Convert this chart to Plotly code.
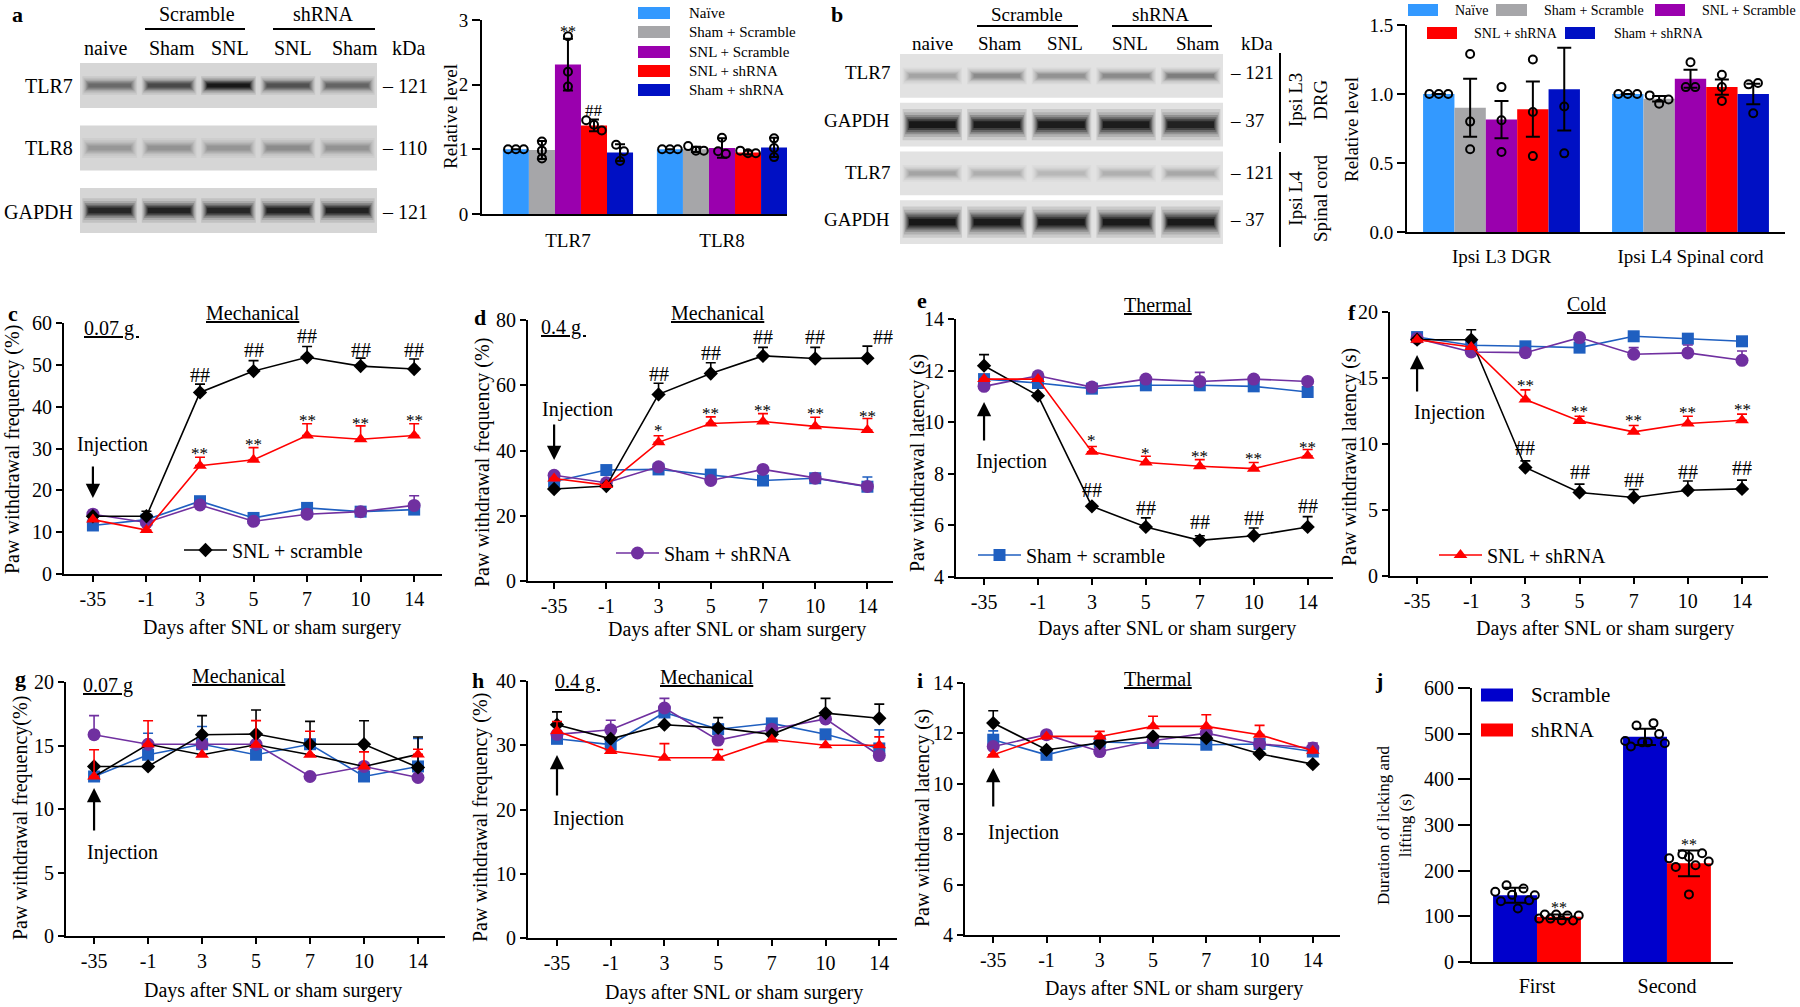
import plotly.graph_objects as go

W, H = 1800, 1007
FONT = "Liberation Serif"

# ===================== DATA =====================
lane_labels = ["naive", "Sham", "SNL", "SNL", "Sham"]

blot_a_proteins = ["TLR7", "TLR8", "GAPDH"]
blot_a_kda = ["121", "110", "121"]
blot_a_intensity = [
    [0.55, 0.72, 0.97, 0.68, 0.58],
    [0.32, 0.34, 0.33, 0.38, 0.34],
    [0.90, 0.92, 0.90, 0.92, 0.92],
]

blot_b_proteins = ["TLR7", "GAPDH", "TLR7", "GAPDH"]
blot_b_kda = ["121", "37", "121", "37"]
blot_b_intensity = [
    [0.30, 0.42, 0.38, 0.42, 0.48],
    [0.97, 0.95, 0.95, 0.95, 0.93],
    [0.30, 0.25, 0.20, 0.24, 0.28],
    [0.97, 0.96, 0.95, 0.96, 0.96],
]
blot_b_regions = ["Ipsi L3<br>DRG", "Ipsi L4<br>Spinal cord"]

wb_groups = ["Naïve", "Sham + Scramble", "SNL + Scramble", "SNL + shRNA", "Sham + shRNA"]

a_targets = ["TLR7", "TLR8"]
a_mean = [[1.00, 0.99, 2.31, 1.37, 0.95], [1.00, 1.00, 1.02, 0.95, 1.03]]
a_err = [[None, 0.14, 0.40, 0.09, 0.13], [None, 0.04, 0.15, 0.03, 0.15]]
a_points = [
    [[1.0, 1.0, 1.0], [1.12, 0.98, 0.86], [2.75, 2.20, 1.97], [1.45, 1.38, 1.29], [1.07, 0.97, 0.82]],
    [[1.0, 1.0, 1.0], [1.05, 0.98, 0.98], [1.18, 0.97, 0.93], [0.98, 0.94, 0.94], [1.17, 1.02, 0.88]],
]
a_sig_bar = [2, 3]
a_sig_y = [2.88, 1.60]
a_sig_text = ["**", "##"]

b_targets = ["Ipsi L3 DGR", "Ipsi L4 Spinal cord"]
b_mean = [[1.00, 0.90, 0.815, 0.89, 1.035], [1.00, 0.965, 1.11, 1.05, 1.00]]
b_err = [[None, 0.21, 0.135, 0.20, 0.30], [None, 0.02, 0.065, 0.055, 0.075]]
b_points = [
    [[1.0, 1.0, 1.0], [1.29, 0.80, 0.60], [1.05, 0.81, 0.58], [1.25, 0.87, 0.55], [1.61, 0.91, 0.57]],
    [[1.0, 1.0, 1.0], [0.99, 0.93, 0.96], [1.23, 1.05, 1.05], [1.14, 1.05, 0.95], [1.07, 1.08, 0.86]],
]

days = ["-35", "-1", "3", "5", "7", "10", "14"]
series_names = ["Sham + scramble", "Sham + shRNA", "SNL + scramble", "SNL + shRNA"]

# order of inner lists follows series_names
c_mean = [[11.6, 13.0, 17.4, 13.4, 15.8, 14.9, 15.4],
          [14.3, 12.3, 16.5, 12.6, 14.3, 14.9, 16.4],
          [13.8, 13.8, 43.4, 48.5, 51.8, 49.7, 49.0],
          [13.0, 10.5, 25.9, 27.3, 33.1, 32.2, 33.1]]
c_sem = [[0, 0, 0, 0, 0, 0, 0],
         [0, 0, 0, 0, 0, 0, 2.3],
         [0, 1.2, 2.0, 2.5, 2.6, 1.9, 2.4],
         [0, 0, 2.0, 2.9, 2.8, 3.2, 2.8]]
c_hash_y = [47.6, 53.6, 56.8, 53.6, 53.6]
c_star_y = [29.8, 31.9, 37.7, 36.9, 37.7]
c_star_text = ["**", "**", "**", "**", "**"]

d_mean = [[30.5, 34.0, 34.2, 32.6, 30.8, 31.5, 28.9],
          [32.4, 30.1, 35.0, 30.8, 34.2, 31.5, 29.0],
          [28.2, 29.1, 57.2, 63.6, 69.0, 68.2, 68.3],
          [31.4, 29.4, 42.5, 48.3, 48.9, 47.4, 46.3]]
d_sem = [[0, 0, 0, 0, 0, 0, 3.0],
         [0, 0, 0, 0, 0, 0, 0],
         [0, 0, 3.4, 3.3, 2.6, 3.4, 3.7],
         [0, 0, 2.0, 2.0, 2.4, 2.8, 3.5]]
d_hash_x = [2, 3, 4, 5, 6.3]
d_hash_y = [63.6, 69.8, 74.9, 74.7, 74.9]
d_star_y = [47.3, 52.6, 53.4, 52.6, 51.6]
d_star_text = ["*", "**", "**", "**", "**"]

e_mean = [[11.67, 11.52, 11.30, 11.43, 11.43, 11.39, 11.17],
          [11.39, 11.80, 11.36, 11.67, 11.58, 11.67, 11.58],
          [12.19, 11.03, 6.74, 5.94, 5.42, 5.60, 5.94],
          [11.67, 11.67, 8.85, 8.44, 8.29, 8.20, 8.70]]
e_sem = [[0, 0, 0, 0, 0, 0, 0],
         [0, 0, 0, 0, 0.35, 0, 0],
         [0.43, 0, 0, 0.35, 0.18, 0.30, 0.40],
         [0, 0, 0.21, 0.24, 0.26, 0.24, 0.24]]
e_hash_y = [7.38, 6.67, 6.12, 6.29, 6.74]
e_star_y = [9.45, 8.96, 8.83, 8.74, 9.17]
e_star_text = ["*", "*", "**", "**", "**"]

f_mean = [[18.1, 17.48, 17.4, 17.3, 18.16, 17.98, 17.78],
          [18.0, 16.97, 16.92, 18.06, 16.8, 16.9, 16.34],
          [17.9, 17.9, 8.22, 6.33, 5.95, 6.5, 6.6],
          [17.9, 17.35, 13.37, 11.75, 10.92, 11.55, 11.8]]
f_sem = [[0, 0, 0, 0, 0, 0, 0],
         [0, 0, 0, 0, 0.5, 0.6, 0.7],
         [0, 0.75, 0.5, 0.63, 0.6, 0.7, 0.66],
         [0, 0, 0.73, 0.35, 0.48, 0.55, 0.46]]
f_hash_y = [9.73, 7.9, 7.3, 7.9, 8.15]
f_star_y = [14.7, 12.8, 12.05, 12.7, 12.94]
f_star_text = ["**", "**", "**", "**", "**"]

g_mean = [[12.56, 14.27, 15.1, 14.27, 15.1, 12.56, 13.35],
          [15.85, 15.1, 15.1, 15.1, 12.56, 13.35, 12.48],
          [13.35, 13.35, 15.85, 15.9, 15.1, 15.1, 13.27],
          [12.56, 15.1, 14.27, 15.06, 14.27, 13.35, 14.3]]
g_sem = [[0, 1.7, 1.4, 0, 0, 0, 2.2],
         [1.5, 0, 0, 0, 0, 0, 0],
         [0, 0, 1.5, 1.9, 1.8, 1.85, 2.4],
         [2.1, 1.85, 0, 1.9, 1.85, 1.15, 0.4]]

h_mean = [[31.0, 30.1, 35.1, 32.5, 33.4, 31.7, 29.5],
          [31.7, 32.4, 35.8, 30.8, 32.5, 34.1, 28.4],
          [33.2, 31.0, 33.2, 32.7, 31.7, 35.0, 34.2],
          [32.2, 29.1, 28.05, 28.05, 30.9, 30.0, 30.0]]
h_sem = [[0, 0, 0, 0, 0, 0, 2.9],
         [0, 1.5, 1.5, 0, 0, 0, 0],
         [2.0, 0, 0, 1.6, 0, 2.3, 2.2],
         [1.5, 0, 2.2, 1.3, 0, 0, 1.3]]

i_mean = [[11.75, 11.15, 11.66, 11.62, 11.55, 11.58, 11.28],
          [11.48, 11.95, 11.28, 11.71, 12.01, 11.58, 11.42],
          [12.41, 11.35, 11.62, 11.88, 11.81, 11.19, 10.78],
          [11.15, 11.88, 11.88, 12.28, 12.28, 11.95, 11.31]]
i_sem = [[0.35, 0, 0, 0, 0, 0, 0],
         [0, 0, 0, 0, 0, 0, 0.2],
         [0.49, 0, 0, 0, 0, 0, 0],
         [0, 0, 0.2, 0.4, 0.46, 0.37, 0]]

j_phases = ["First", "Second"]
j_groups = ["Scramble", "shRNA"]
j_mean = [[146, 493], [99, 216]]
j_err = [[16.5, 18], [5, 28]]
j_points = [
    [[154, 133, 168, 147, 117, 161, 135, 146], [484, 472, 518, 481, 481, 523, 499, 479]],
    [[95, 104, 95, 104, 91, 102, 91, 102], [227, 208, 236, 148, 230, 212, 238, 220]],
]
j_sig_y = [128, 267]

# ===================== STYLE =====================
wb_colors = ["#3399FF", "#A6A6A9", "#9A00AE", "#FF0000", "#0010C4"]
j_colors = ["#0000CC", "#FF0000"]
series_style = {
    "Sham + scramble": dict(color="#1F5FC0", symbol="square", size=12),
    "Sham + shRNA": dict(color="#7030A0", symbol="circle", size=13),
    "SNL + scramble": dict(color="#000000", symbol="diamond", size=11),
    "SNL + shRNA": dict(color="#FF0000", symbol="triangle-up", size=12),
}

fig = go.Figure()
layout = {}
annotations = []
shapes = []


def xd(l, r):
    return [l / W, r / W]


def yd(t, b):
    return [1 - b / H, 1 - t / H]


axis_common = dict(showgrid=False, zeroline=False, showline=True, linecolor="black",
                   linewidth=2, tickcolor="black", tickwidth=2, automargin=False,
                   tickfont=dict(family=FONT, size=20, color="black"), fixedrange=True)


def add_xy(n, xdom, ydom, xr, yr, xkw=None, ykw=None):
    s = "" if n == 1 else str(n)
    xa = dict(axis_common, domain=xdom, range=xr, anchor="y" + s)
    ya = dict(axis_common, domain=ydom, range=yr, anchor="x" + s)
    xa.update(xkw or {})
    ya.update(ykw or {})
    layout["xaxis" + s] = xa
    layout["yaxis" + s] = ya
    return "x" + s, "y" + s


def text(x, y, s, size=20, xanchor="center", yanchor="middle", angle=0):
    annotations.append(dict(x=x / W, y=1 - y / H, xref="paper", yref="paper", text=s,
                            showarrow=False, xanchor=xanchor, yanchor=yanchor, textangle=angle,
                            font=dict(family=FONT, size=size, color="black")))


def data_text(xa, ya, x, y, s, size, yshift=0):
    annotations.append(dict(x=x, y=y, xref=xa, yref=ya, text=s, showarrow=False,
                            xanchor="center", yanchor="middle", yshift=yshift,
                            font=dict(family=FONT, size=size, color="black")))


def arrow(xa, tip_y, tail_y):
    annotations.append(dict(x=0, y=1 - tip_y / H, xref=xa, yref="paper", ax=0, ay=tail_y - tip_y,
                            text="", showarrow=True, arrowhead=2, arrowsize=1.3,
                            arrowwidth=2.2, arrowcolor="black"))


def hline(x0, x1, y, w=2):
    shapes.append(dict(type="line", xref="paper", yref="paper", x0=x0 / W, x1=x1 / W,
                       y0=1 - y / H, y1=1 - y / H, line=dict(color="black", width=w)))


def vline(x, y0, y1, w=2):
    shapes.append(dict(type="line", xref="paper", yref="paper", x0=x / W, x1=x / W,
                       y0=1 - y0 / H, y1=1 - y1 / H, line=dict(color="black", width=w)))


def swatch(x0, x1, yc, h, color):
    shapes.append(dict(type="rect", xref="paper", yref="paper", x0=x0 / W, x1=x1 / W,
                       y0=1 - (yc + h / 2) / H, y1=1 - (yc - h / 2) / H,
                       fillcolor=color, line=dict(width=0)))


def gray(level):
    l = max(0, min(255, int(round(level))))
    return f"rgb({l},{l},{l})"


# ===================== BLOTS =====================
band_layers = [(0.92, 2.3, 0.12), (0.88, 1.8, 0.25), (0.84, 1.4, 0.42),
               (0.80, 1.1, 0.62), (0.76, 0.8, 0.82), (0.72, 0.5, 1.0)]


def blot(n, box, yr, intensities, strip_h, band_h, bg):
    xa, ya = add_xy(n, xd(box[0], box[2]), yd(box[1], box[3]), [0.5, 5.5], yr,
                    xkw=dict(visible=False), ykw=dict(visible=False))
    rows = len(intensities)
    centers = [rows - 1 - r for r in range(rows)]
    fig.add_trace(go.Bar(x=[3] * rows, y=[strip_h] * rows, base=[c - strip_h / 2 for c in centers],
                         width=[5.0] * rows, marker=dict(color=gray(bg), line=dict(width=0)),
                         xaxis=xa, yaxis=ya, showlegend=False, hoverinfo="skip"))
    lanes = list(range(1, 6))
    for r in range(rows):
        c = centers[r]
        bh = band_h[r]
        for sw, sh, k in band_layers:
            cols = [gray(bg - v * k * (bg - 18)) for v in intensities[r]]
            fig.add_trace(go.Bar(x=lanes, y=[bh * sh] * 5, base=[c - bh * sh / 2] * 5,
                                 width=[sw] * 5, marker=dict(color=cols, line=dict(width=0)),
                                 xaxis=xa, yaxis=ya, showlegend=False, hoverinfo="skip"))
    return xa, ya


blot(1, (80, 63, 377, 233), [-0.36, 2.36], blot_a_intensity, 0.72, [0.13, 0.14, 0.17], 214)
blot(3, (900, 53, 1223, 245), [-0.47, 3.47], blot_b_intensity, 0.9, [0.15, 0.28, 0.15, 0.28], 226)

# panel a blot labels
text(17, 15, "<b>a</b>", 22)
text(197, 14, "Scramble", 20)
text(323, 14, "shRNA", 20)
hline(145, 245, 29)
hline(273, 375, 29)
for lx, lab in zip([105, 172, 230, 293, 355], lane_labels):
    text(lx, 48, lab, 20)
text(408, 48, "kDa", 20)
for yy, p, k in zip([86, 148, 212], blot_a_proteins, blot_a_kda):
    text(75, yy, p, 20, xanchor="right")
    text(380, yy, "– " + k, 20, xanchor="left")

# panel b blot labels
text(837, 15, "<b>b</b>", 22)
text(1027, 14, "Scramble", 19)
text(1160, 14, "shRNA", 19)
hline(977, 1078, 26)
hline(1112, 1212, 26)
for lx, lab in zip([932, 1000, 1065, 1130, 1198], lane_labels):
    text(lx, 43, lab, 19)
text(1257, 43, "kDa", 19)
for yy, p, k in zip([72, 120, 173, 220], blot_b_proteins, blot_b_kda):
    text(892, yy, p, 19, xanchor="right")
    text(1228, yy, "– " + k, 19, xanchor="left")
vline(1280, 53, 143)
vline(1280, 152, 247)
text(1308, 100, blot_b_regions[0], 19, angle=-90)
text(1308, 198, blot_b_regions[1], 19, angle=-90)


# ===================== GROUPED BARS =====================
def swarm(vals, thr, bw):
    n = len(vals)
    order = sorted(range(n), key=lambda i: vals[i])
    groups, cur = [], [order[0]]
    for p, q in zip(order, order[1:]):
        if vals[q] - vals[p] < thr:
            cur.append(q)
        else:
            groups.append(cur)
            cur = [q]
    groups.append(cur)
    offs = [0.0] * n
    for grp in groups:
        k = len(grp)
        if k == 1:
            continue
        step = min(0.3 * bw, 0.9 * bw / (k - 1))
        for j, idx in enumerate(sorted(grp)):
            offs[idx] = (j - (k - 1) / 2) * step
    return offs


def grouped(xa, ya, means, errs, points, colors, bw, thr, cap, msize):
    ng = len(means)
    k = len(colors)
    px, py = [], []
    for i in range(k):
        xs = [g + (i - (k - 1) / 2) * bw for g in range(ng)]
        ys = [means[g][i] for g in range(ng)]
        es = [errs[g][i] for g in range(ng)]
        fig.add_trace(go.Bar(x=xs, y=ys, width=[bw] * ng, marker=dict(color=colors[i], line=dict(width=0)),
                             error_y=dict(type="data", array=es, color="black", thickness=2, width=cap),
                             xaxis=xa, yaxis=ya, showlegend=False, hoverinfo="skip"))
        for g in range(ng):
            vals = points[g][i]
            offs = swarm(vals, thr, bw)
            for v, o in zip(vals, offs):
                px.append(xs[g] + o)
                py.append(v)
    fig.add_trace(go.Scatter(x=px, y=py, mode="markers",
                             marker=dict(symbol="circle-open", size=msize, color="black", line=dict(width=2)),
                             xaxis=xa, yaxis=ya, showlegend=False, hoverinfo="skip"))


# panel a bars
bw_a = 0.169
xa, ya = add_xy(2, xd(482, 787), yd(20, 214), [-0.558, 1.422], [0, 3],
                xkw=dict(tickmode="array", tickvals=[0, 1], ticktext=a_targets, ticks="",
                         ticklabelstandoff=8, tickfont=dict(family=FONT, size=19, color="black")),
                ykw=dict(dtick=1, ticks="outside", ticklen=8, tickfont=dict(family=FONT, size=19, color="black")))
grouped(xa, ya, [[a_mean[g][i] for i in range(5)] for g in range(2)], a_err, a_points, wb_colors,
        bw_a, 0.105, 5, 8)
for bi, yv, s in zip(a_sig_bar, a_sig_y, a_sig_text):
    data_text(xa, ya, (bi - 2) * bw_a, yv, s, 17 if s == "##" else 16, yshift=-4 if "*" in s else 0)
text(450, 117, "Relative level", 19, angle=-90)
for yy, name, col in zip([13, 32, 52, 71, 90], wb_groups, wb_colors):
    swatch(638, 670, yy, 12, col)
    text(687, yy, name, 15, xanchor="left")

# panel b bars
bw_b = 0.166
xa, ya = add_xy(4, xd(1407, 1785), yd(25, 232), [-0.5, 1.5], [0, 1.5],
                xkw=dict(tickmode="array", tickvals=[0, 1], ticktext=b_targets, ticks="",
                         ticklabelstandoff=6, tickfont=dict(family=FONT, size=19, color="black")),
                ykw=dict(tickvals=[0, 0.5, 1.0, 1.5], tickformat=".1f", ticks="outside", ticklen=8,
                         tickfont=dict(family=FONT, size=19, color="black")))
grouped(xa, ya, b_mean, b_err, b_points, wb_colors, bw_b, 0.0525, 7, 8)
text(1352, 130, "Relative level", 19, angle=-90)
for (x0, x1, yy, tx), name, col in zip([(1408, 1438, 10, 1453), (1496, 1527, 10, 1542), (1655, 1685, 10, 1700),
                                        (1427, 1457, 33, 1472), (1565, 1595, 33, 1612)], wb_groups, wb_colors):
    swatch(x0, x1, yy, 12, col)
    text(tx, yy, name, 14, xanchor="left")

# panel j bars
bw_j = 0.338
xa, ya = add_xy(12, xd(1472, 1733), yd(688, 962), [-0.5, 1.508], [0, 600],
                xkw=dict(tickmode="array", tickvals=[0, 1], ticktext=j_phases, ticks="",
                         ticklabelstandoff=5, tickfont=dict(family=FONT, size=20, color="black")),
                ykw=dict(dtick=100, ticks="outside", ticklen=12))
grouped(xa, ya, [[j_mean[s][g] for s in range(2)] for g in range(2)],
        [[j_err[s][g] for s in range(2)] for g in range(2)],
        [[j_points[s][g] for s in range(2)] for g in range(2)], j_colors, bw_j, 21, 11, 8)
for g, yv in enumerate(j_sig_y):
    data_text(xa, ya, g + bw_j / 2, yv, "**", 16, yshift=-4)
text(1379, 680, "<b>j</b>", 22)
text(1394, 825, "Duration of licking and<br>lifting (s)", 17, angle=-90)
for yy, name, col in zip([695, 730], j_groups, j_colors):
    swatch(1481, 1513, yy, 13, col)
    text(1529, yy, name, 21, xanchor="left")


# ===================== LINE PANELS =====================
draw_order = [0, 1, 2, 3]


def line_panel(n, box, xr, yr, dtick, means, sems, legend_series=None, legend_key=None,
               red_line_black=False):
    xa, ya = add_xy(n, xd(box[0], box[2]), yd(box[1], box[3]), xr, yr,
                    xkw=dict(tickmode="array", tickvals=list(range(7)), ticktext=days,
                             ticks="outside", ticklen=6),
                    ykw=dict(dtick=dtick, tick0=0, ticks="outside", ticklen=6))
    for si in draw_order:
        name = series_names[si]
        st = series_style[name]
        lc = "#000000" if (red_line_black and name == "SNL + shRNA") else st["color"]
        up = [e if e > 0 else None for e in sems[si]]
        dn = [0 if e > 0 else None for e in sems[si]]
        if legend_series == name:
            kw = dict(showlegend=True, legend=legend_key)
        else:
            kw = dict(showlegend=False)
        fig.add_trace(go.Scatter(x=list(range(7)), y=means[si], mode="lines+markers", name=name,
                                 line=dict(color=lc, width=1.6),
                                 marker=dict(symbol=st["symbol"], size=st["size"], color=st["color"],
                                             line=dict(width=0)),
                                 error_y=dict(type="data", symmetric=False, array=up, arrayminus=dn,
                                              color=st["color"], thickness=1.6, width=5),
                                 xaxis=xa, yaxis=ya, cliponaxis=False, hoverinfo="skip", **kw))
    return xa, ya


def sig(xa, ya, xs, ys, texts):
    for x, y, s in zip(xs, ys, texts):
        if "*" in s:
            data_text(xa, ya, x, y, s, 17, yshift=-4)
        else:
            data_text(xa, ya, x, y, s, 20)


# c
xa, ya = line_panel(5, (64, 323, 442, 574), [-0.54, 6.52], [0, 60], 10, c_mean, c_sem,
                    "SNL + scramble", "legend")
sig(xa, ya, [2, 3, 4, 5, 6], c_hash_y, ["##"] * 5)
sig(xa, ya, [2, 3, 4, 5, 6], c_star_y, c_star_text)
text(13, 313, "<b>c</b>", 22)
text(253, 313, "<u>Mechanical</u>", 20)
text(82, 328, "<u>0.07 g </u>", 20, xanchor="left")
text(112, 444, "Injection", 20)
arrow(xa, 498, 465)
text(272, 627, "Days after SNL or sham surgery", 20)
text(12, 450, "Paw withdrawal frequency (%)", 20, angle=-90)

# d
xa, ya = line_panel(6, (528, 320, 893, 581), [-0.50, 6.49], [0, 80], 20, d_mean, d_sem,
                    "Sham + shRNA", "legend2")
sig(xa, ya, d_hash_x, d_hash_y, ["##"] * 5)
sig(xa, ya, [2, 3, 4, 5, 6], d_star_y, d_star_text)
text(480, 317, "<b>d</b>", 22)
text(718, 313, "<u>Mechanical</u>", 20)
text(539, 327, "<u>0.4 g </u>", 20, xanchor="left")
text(577, 409, "Injection", 20)
arrow(xa, 460, 423)
text(737, 629, "Days after SNL or sham surgery", 20)
text(482, 463, "Paw withdrawal frequency (%)", 20, angle=-90)

# e
xa, ya = line_panel(7, (956, 319, 1333, 577), [-0.52, 6.47], [4, 14], 2, e_mean, e_sem,
                    "Sham + scramble", "legend3")
sig(xa, ya, [2, 3, 4, 5, 6], e_hash_y, ["##"] * 5)
sig(xa, ya, [2, 3, 4, 5, 6], e_star_y, e_star_text)
text(922, 300, "<b>e</b>", 22)
text(1158, 305, "<u>Thermal</u>", 20)
text(1012, 462, "Injection", 20)
arrow(xa, 402, 442)
text(1167, 628, "Days after SNL or sham surgery", 20)
text(917, 463, "Paw withdrawal latency (s)", 20, angle=-90)

# f
xa, ya = line_panel(8, (1390, 312, 1768, 576), [-0.50, 6.48], [0, 20], 5, f_mean, f_sem,
                    "SNL + shRNA", "legend4")
sig(xa, ya, [2, 3, 4, 5, 6], f_hash_y, ["##"] * 5)
sig(xa, ya, [2, 3, 4, 5, 6], f_star_y, f_star_text)
text(1352, 312, "<b>f</b>", 22)
text(1586, 304, "<u>Cold</u>", 20)
text(1449, 412, "Injection", 20)
arrow(xa, 355, 393)
text(1605, 628, "Days after SNL or sham surgery", 20)
text(1349, 457, "Paw withdrawal latency (s)", 20, angle=-90)

# g
xa, ya = line_panel(9, (66, 682, 445, 936), [-0.52, 6.5], [0, 20], 5, g_mean, g_sem,
                    red_line_black=True)
text(20, 678, "<b>g</b>", 22)
text(239, 676, "<u>Mechanical</u>", 20)
text(81, 685, "<u>0.07 g</u>", 20, xanchor="left")
text(123, 852, "Injection", 20)
arrow(xa, 788, 832)
text(273, 990, "Days after SNL or sham surgery", 20)
text(20, 818, "Paw withdrawal frequency(%)", 20, angle=-90)

# h
xa, ya = line_panel(10, (528, 681, 897, 938), [-0.54, 6.33], [0, 40], 10, h_mean, h_sem)
text(478, 680, "<b>h</b>", 22)
text(707, 677, "<u>Mechanical</u>", 20)
text(553, 681, "<u>0.4 g </u>", 20, xanchor="left")
text(588, 818, "Injection", 20)
arrow(xa, 755, 797)
text(734, 992, "Days after SNL or sham surgery", 20)
text(480, 818, "Paw withdrawal frequency (%)", 20, angle=-90)

# i
xa, ya = line_panel(11, (965, 683, 1340, 935), [-0.53, 6.51], [4, 14], 2, i_mean, i_sem)
text(920, 680, "<b>i</b>", 22)
text(1158, 679, "<u>Thermal</u>", 20)
text(1023, 832, "Injection", 20)
arrow(xa, 768, 808)
text(1174, 988, "Days after SNL or sham surgery", 20)
text(922, 818, "Paw withdrawal latency (s)", 20, angle=-90)

# legends of c-f (x = where the legend text starts in the reference, minus the item width)
leg_common = dict(xanchor="left", yanchor="middle", bgcolor="rgba(0,0,0,0)", borderwidth=0,
                  font=dict(family=FONT, size=20, color="black"), itemwidth=43)
layout["legend"] = dict(leg_common, x=(232 - 53) / W, y=1 - 550 / H)
layout["legend2"] = dict(leg_common, x=(664 - 53) / W, y=1 - 553 / H)
layout["legend3"] = dict(leg_common, x=(1026 - 53) / W, y=1 - 555 / H)
layout["legend4"] = dict(leg_common, x=(1487 - 53) / W, y=1 - 555 / H)

fig.update_layout(width=W, height=H, margin=dict(l=0, r=0, t=0, b=0, pad=0, autoexpand=False),
                  paper_bgcolor="white", plot_bgcolor="rgba(0,0,0,0)",
                  font=dict(family=FONT, size=20, color="black"),
                  barmode="overlay", hovermode=False, showlegend=True,
                  annotations=annotations, shapes=shapes, **layout)

fig.write_html("out.html", config={"displayModeBar": False},
               post_script="document.body.style.margin='0px';")
